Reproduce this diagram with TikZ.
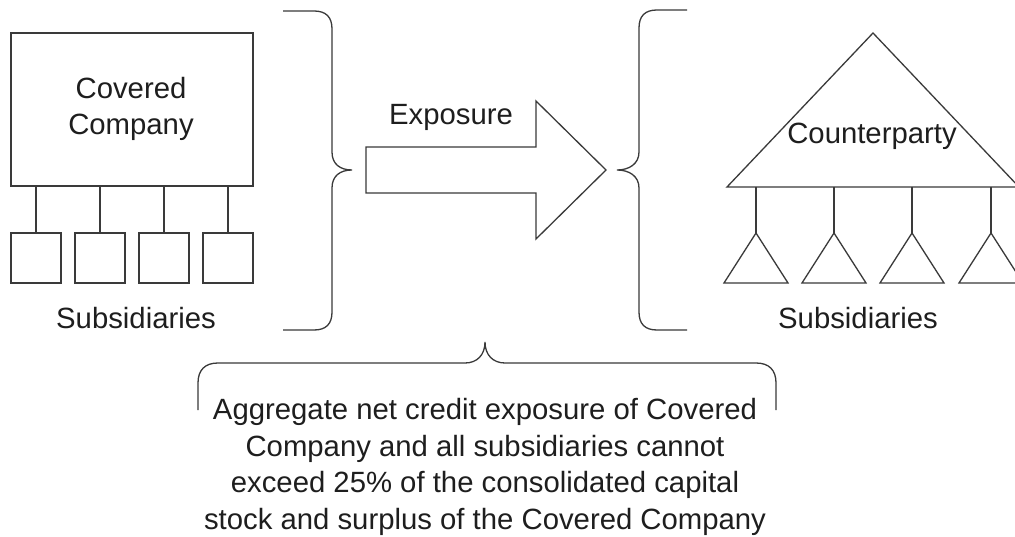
\documentclass[tikz,border=0pt]{standalone}
\usepackage{fontspec}
\setmainfont{Liberation Sans}
\definecolor{ln}{HTML}{3A3A3A}
\definecolor{tx}{HTML}{1E1E1E}
\begin{document}
\begin{tikzpicture}[x=1pt,y=-1pt,
  every node/.style={text=tx, font=\fontsize{29.3}{36.7}\selectfont},
  shape line/.style={draw=ln, line width=1.3pt, line join=miter},
  boxnode/.style={shape line, rectangle, inner sep=0pt},
  lbl/.style={inner sep=0pt, align=center}]
\useasboundingbox (0,0) rectangle (1015,537);
\clip (0,0) rectangle (1015,537);
\fill[white] (0,0) rectangle (1015,537);
% Covered company
\node[boxnode, minimum width=242pt, minimum height=153pt] (cc) at (132,109.5) {};
\node[lbl] (cctext) at (131,109) {Covered\\Company};
\foreach \i/\x in {1/36,2/100,3/164,4/228}{
  \node[boxnode, minimum width=50pt, minimum height=50pt] (s\i) at (\x,258) {};
  \draw[shape line] (cc.south -| s\i.north) -- (s\i.north);
}
\node[lbl] (subl) at (136,318) {Subsidiaries};
% left brace
\draw[shape line] (283,11) -- (314,11) .. controls (326,11) and (332,17) .. (332,29) -- (332,152) .. controls (332,164) and (340,170) .. (352,170) .. controls (340,170) and (332,176) .. (332,188) -- (332,312) .. controls (332,324) and (326,330) .. (314,330) -- (283,330);
% arrow
\draw[shape line] (366,147) coordinate (a1) -- (536,147) -- (536,101) -- (606,170) coordinate (atip) -- (536,239) -- (536,193) -- (366,193) -- cycle;
\node[lbl] (expo) at (451,117) {Exposure};
% right brace
\draw[shape line] (687,10) -- (657,10) .. controls (645,10) and (639,16) .. (639,28) -- (639,152) .. controls (639,164) and (629,170) .. (617,170) .. controls (629,170) and (639,176) .. (639,188) -- (639,312) .. controls (639,324) and (645,330) .. (657,330) -- (687,330);
% counterparty
\coordinate (apex) at (873,33);
\coordinate (bl) at (727,187);
\coordinate (br) at (1019,187);
\draw[shape line] (apex) -- (bl) -- (br) -- cycle;
\node[lbl] (cp) at (872,136) {Counterparty};
\foreach \i/\x in {1/756,2/834,3/912,4/991}{
  \coordinate (tp\i) at (\x,233);
  \coordinate (tl\i) at (\x-32,283);
  \coordinate (tr\i) at (\x+32,283);
  \draw[shape line] (tp\i) -- (tl\i) -- (tr\i) -- cycle;
  \draw[shape line] (tp\i |- bl) -- (tp\i);
}
\node[lbl] (subr) at (858,318) {Subsidiaries};
% bottom brace
\draw[shape line] (198,410) -- (198,383) .. controls (198,370) and (205,363) .. (218,363) -- (465,363) .. controls (477,363) and (485,355) .. (485,342) .. controls (485,355) and (493,363) .. (505,363) -- (756,363) .. controls (769,363) and (776,370) .. (776,383) -- (776,410);
\node[lbl] (note) at (485,467) {Aggregate net credit exposure of Covered\\Company and all subsidiaries cannot\\exceed 25\% of the consolidated capital\\stock and surplus of the Covered Company};
\end{tikzpicture}
\end{document}
